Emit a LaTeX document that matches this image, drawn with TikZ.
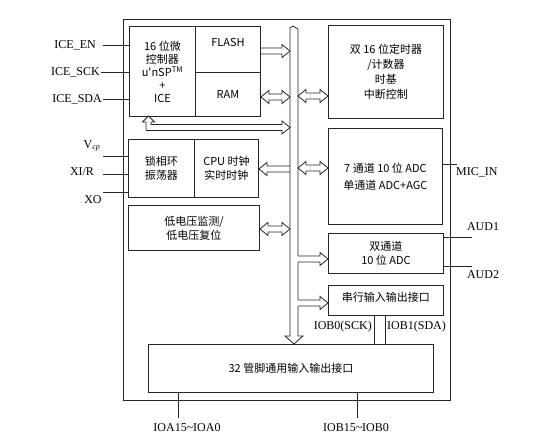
\documentclass[tikz,border=0pt]{standalone}
\usepackage{fontspec}
\setmainfont{Liberation Serif}
\newfontfamily\cjk{Noto Sans CJK SC}
\usetikzlibrary{calc}
\tikzset{
 box/.style={draw=black!85, line width=0.9pt, anchor=north west, inner sep=0pt, font=\cjk\fontsize{11}{14}\selectfont, align=center},
 lbl/.style={font=\fontsize{12}{14}\selectfont, inner sep=0pt},
 wire/.style={draw=black!85, line width=0.9pt},
 fat/.style={draw=black!85, line width=0.8pt, line join=miter},
}
\newcommand\arR[2]{\draw[fat] let \p1=(#1),\p2=(#2) in (\x1,\y1+3pt) -- (\x2-8pt,\y1+3pt) -- (\x2-8pt,\y1+6.5pt) -- (\x2,\y1) -- (\x2-8pt,\y1-6.5pt) -- (\x2-8pt,\y1-3pt) -- (\x1,\y1-3pt);}
\newcommand\arRb[2]{\fill[white] let \p1=(#1) in (\x1-0.8pt,\y1+2.6pt) rectangle (\x1+0.8pt,\y1-2.6pt);\arR{#1}{#2}}
\newcommand\arL[2]{\draw[fat] let \p1=(#1),\p2=(#2) in (\x2,\y1+3pt) -- (\x1+8pt,\y1+3pt) -- (\x1+8pt,\y1+6.5pt) -- (\x1,\y1) -- (\x1+8pt,\y1-6.5pt) -- (\x1+8pt,\y1-3pt) -- (\x2,\y1-3pt);}
\newcommand\arLR[2]{\draw[fat] let \p1=(#1),\p2=(#2) in (\x1,\y1) -- (\x1+8pt,\y1+6.5pt) -- (\x1+8pt,\y1+3pt) -- (\x2-8pt,\y1+3pt) -- (\x2-8pt,\y1+6.5pt) -- (\x2,\y1) -- (\x2-8pt,\y1-6.5pt) -- (\x2-8pt,\y1-3pt) -- (\x1+8pt,\y1-3pt) -- (\x1+8pt,\y1-6.5pt) -- cycle;}
\begin{document}
\begin{tikzpicture}[x=1pt,y=-1pt]
\useasboundingbox (0,0) rectangle (556,443);
% outer frame
\node[box, minimum width=327pt, minimum height=381pt] (outer) at (123,19) {};
% boxes
\node[box, minimum width=66pt, minimum height=90pt, font=\cjk\fontsize{11}{13}\selectfont] (cpu) at (129,26) {16 位微\\控制器\\u'nSP\textsuperscript{TM}\\+\\ICE};
\node[box, minimum width=65pt, minimum height=46pt, text depth=14pt] (flash) at (195,26) {FLASH};
\node[box, minimum width=65pt, minimum height=44pt] (ram) at (195,72) {RAM};
\node[box, minimum width=66pt, minimum height=58pt] (pll) at (128,139) {锁相环\\振荡器};
\node[box, minimum width=64pt, minimum height=58pt] (clk) at (194,139) {CPU 时钟\\实时时钟};
\node[box, minimum width=131pt, minimum height=45pt] (lvd) at (128,205) {低电压监测/\\低电压复位};
\node[box, minimum width=115pt, minimum height=93pt, font=\cjk\fontsize{11}{15}\selectfont] (timer) at (328,25) {双 16 位定时器\\/计数器\\时基\\中断控制};
\node[box, minimum width=114pt, minimum height=96pt, font=\cjk\fontsize{11}{17}\selectfont] (adc7) at (328,128) {7 通道 10 位 ADC\\单通道 ADC+AGC};
\node[box, minimum width=115pt, minimum height=40pt] (adc2) at (328,233) {双通道\\10 位 ADC};
\node[box, minimum width=115pt, minimum height=30pt, text depth=8pt] (sio) at (328,285) {串行输入输出接口};
\node[box, minimum width=285pt, minimum height=48pt] (gpio) at (148,344) {32 管脚通用输入输出接口};
% bus
\coordinate (busL) at (290,0);
\coordinate (busR) at (298,0);
\draw[fat] (290,336) -- (290,28) -- (293,26) -- (298,29) -- (298,336) -- (303,336) -- (294,344) -- (285,336) -- cycle;
% arrows
\arR{flash.east |- 0,51}{busL |- 0,51}
\arLR{ram.east |- 0,97}{busL |- 0,97}
\draw[fat] (146,130) -- (146,122) -- (142.5,122) -- (148.5,116) -- (154.5,122) -- (151,122) -- (151,124.5) -- (282,124.5) -- (282,121) -- (290,127.5) -- (282,134) -- (282,130.5) -- (146,130.5);
\arL{clk.east |- 0,169}{busL |- 0,169}
\arLR{lvd.east |- 0,229}{busL |- 0,229}
\arLR{busR |- 0,96}{timer.west |- 0,96}
\arLR{busR |- 0,168}{adc7.west |- 0,168}
\arRb{busR |- 0,259}{adc2.west |- 0,259}
\arRb{busR |- 0,303}{sio.west |- 0,303}
% left labels and wires
\node[lbl, anchor=east] (iceen) at (96,45) {ICE\_EN};
\node[lbl, anchor=east] (icesck) at (100,72) {ICE\_SCK};
\node[lbl, anchor=east] (icesda) at (102,99) {ICE\_SDA};
\draw[wire] ([xshift=7pt]iceen.east) -- (cpu.west |- iceen.east);
\draw[wire] ([xshift=1pt]icesck.east) -- (cpu.west |- icesck.east);
\draw[wire] ([xshift=1pt]icesda.east) -- (cpu.west |- icesda.east);
\node[lbl] (vcp) at (92,146) {V\textsubscript{\textit{cp}}};
\node[lbl] (xir) at (82,172) {XI/R};
\node[lbl] (xo) at (93,200) {XO};
\coordinate (w1) at (103,156);
\coordinate (w2) at (103,174);
\coordinate (w3) at (103,192);
\draw[wire] (w1) -- (pll.west |- w1);
\draw[wire] (w2) -- (pll.west |- w2);
\draw[wire] (w3) -- (pll.west |- w3);
% right labels
\coordinate (micE) at (457,164);
\draw[wire] (adc7.east |- micE) -- (micE);
\node[lbl, anchor=west] (mic) at (456,172) {MIC\_IN};
\coordinate (a1E) at (472,237);
\coordinate (a2E) at (472,266);
\draw[wire] (adc2.east |- a1E) -- (a1E);
\draw[wire] (adc2.east |- a2E) -- (a2E);
\node[lbl] (aud1) at (483,227) {AUD1};
\node[lbl] (aud2) at (483,275) {AUD2};
% serial lines
\draw[wire] (sio.south -| 374,0) -- (gpio.north -| 374,0);
\draw[wire] (sio.south -| 385,0) -- (gpio.north -| 385,0);
\node[lbl, anchor=east] (iob0) at (372,327) {IOB0(SCK)};
\node[lbl, anchor=west] (iob1) at (387,327) {IOB1(SDA)};
% bottom
\coordinate (b1) at (178,418);
\coordinate (b2) at (357,418);
\draw[wire] (gpio.south -| b1) -- (b1);
\draw[wire] (gpio.south -| b2) -- (b2);
\node[lbl] (ioa) at (187,428) {IOA15\textasciitilde IOA0};
\node[lbl] (iob) at (356,428) {IOB15\textasciitilde IOB0};
\end{tikzpicture}
\end{document}
